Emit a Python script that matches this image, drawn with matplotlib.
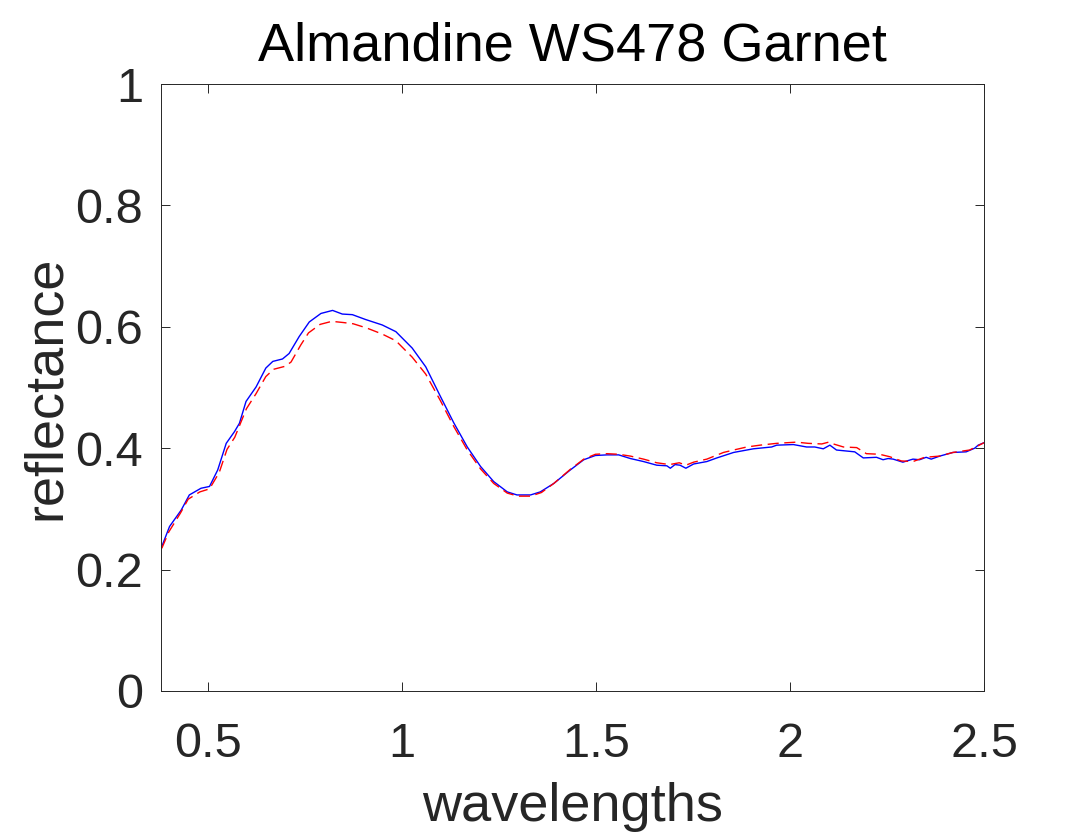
import numpy as np
import matplotlib
matplotlib.use('Agg')
import matplotlib.pyplot as plt

# values
wl_blue = [0.382, 0.402, 0.432, 0.453, 0.483, 0.505, 0.526, 0.548, 0.569, 0.582,
           0.599, 0.625, 0.650, 0.668, 0.693, 0.710, 0.736, 0.762, 0.792, 0.822,
           0.847, 0.873, 0.907, 0.950, 0.985, 1.027, 1.062, 1.100, 1.134, 1.169,
           1.203, 1.237, 1.272, 1.297, 1.332, 1.357, 1.392, 1.434, 1.469, 1.499,
           1.529, 1.559, 1.589, 1.623, 1.657, 1.683, 1.692, 1.704, 1.717, 1.732,
           1.752, 1.786, 1.812, 1.855, 1.906, 1.953, 1.966, 2.009, 2.043, 2.064,
           2.086, 2.103, 2.120, 2.167, 2.189, 2.223, 2.240, 2.253, 2.266, 2.291,
           2.317, 2.334, 2.351, 2.364, 2.386, 2.420, 2.454, 2.476, 2.485, 2.500]
refl_blue = [0.238, 0.271, 0.298, 0.323, 0.334, 0.337, 0.364, 0.408, 0.427, 0.441,
             0.477, 0.501, 0.532, 0.543, 0.547, 0.556, 0.584, 0.608, 0.622, 0.627,
             0.621, 0.620, 0.612, 0.603, 0.592, 0.565, 0.534, 0.485, 0.442, 0.402,
             0.370, 0.345, 0.328, 0.323, 0.323, 0.328, 0.342, 0.364, 0.381, 0.388,
             0.389, 0.389, 0.383, 0.378, 0.372, 0.371, 0.367, 0.373, 0.372, 0.367,
             0.374, 0.378, 0.384, 0.393, 0.399, 0.402, 0.405, 0.406, 0.402, 0.402,
             0.399, 0.405, 0.397, 0.394, 0.384, 0.385, 0.381, 0.383, 0.382, 0.377,
             0.382, 0.381, 0.385, 0.382, 0.387, 0.393, 0.394, 0.400, 0.405, 0.409]

wl_red = [0.382, 0.400, 0.430, 0.450, 0.480, 0.505, 0.530, 0.550, 0.570, 0.600,
          0.625, 0.650, 0.670, 0.700, 0.715, 0.740, 0.760, 0.790, 0.820, 0.850,
          0.875, 0.910, 0.950, 0.985, 1.027, 1.062, 1.100, 1.134, 1.169, 1.203,
          1.237, 1.272, 1.300, 1.332, 1.360, 1.392, 1.434, 1.469, 1.499, 1.529,
          1.559, 1.589, 1.623, 1.657, 1.690, 1.715, 1.732, 1.752, 1.786, 1.829,
          1.855, 1.889, 1.923, 1.966, 2.017, 2.047, 2.082, 2.100, 2.112, 2.138,
          2.172, 2.197, 2.231, 2.257, 2.287, 2.317, 2.347, 2.386, 2.420, 2.463,
          2.500]
refl_red = [0.235, 0.262, 0.293, 0.316, 0.328, 0.333, 0.360, 0.398, 0.418, 0.465,
            0.490, 0.518, 0.530, 0.535, 0.542, 0.570, 0.590, 0.604, 0.609, 0.607,
            0.605, 0.598, 0.588, 0.577, 0.550, 0.522, 0.478, 0.436, 0.397, 0.366,
            0.342, 0.326, 0.321, 0.321, 0.327, 0.342, 0.365, 0.382, 0.390, 0.391,
            0.390, 0.387, 0.382, 0.376, 0.373, 0.376, 0.372, 0.377, 0.382, 0.393,
            0.397, 0.402, 0.405, 0.408, 0.410, 0.408, 0.407, 0.410, 0.407, 0.402,
            0.401, 0.391, 0.390, 0.386, 0.379, 0.378, 0.385, 0.387, 0.393, 0.397,
            0.409]

xticks = [0.5, 1, 1.5, 2, 2.5]
yticks = [0, 0.2, 0.4, 0.6, 0.8, 1]

plt.rcParams['font.family'] = ['Liberation Sans', 'DejaVu Sans']
axcol = '#262626'

fig = plt.figure(figsize=(10.88, 8.4), dpi=100)
ax = fig.add_axes([161/1088, 1-691/840, (984-161)/1088, (691-84)/840])

ax.plot(wl_blue, refl_blue, color='blue', linewidth=1.0)
ax.plot(wl_red, refl_red, color='red', linewidth=1.0, linestyle=(0, (8, 4)))

ax.set_xlim(0.38, 2.5)
ax.set_ylim(0, 1)
ax.set_xticks(xticks)
ax.set_xticklabels(['0.5', '1', '1.5', '2', '2.5'])
ax.set_yticks(yticks)
ax.set_yticklabels(['0', '0.2', '0.4', '0.6', '0.8', '1'])

for s in ax.spines.values():
    s.set_color(axcol)
    s.set_linewidth(0.7)
ax.tick_params(direction='in', length=6.5, width=0.7, color=axcol,
               labelcolor=axcol, labelsize=35, top=True, right=True)
ax.tick_params(axis='x', pad=22)
ax.tick_params(axis='y', pad=13)

ax.set_title('Almandine WS478 Garnet', fontsize=39, pad=17, color='black')
ax.set_xlabel('wavelengths', fontsize=39, color=axcol, labelpad=11)
ax.set_ylabel('reflectance', fontsize=39, color=axcol, labelpad=3)

fig.savefig('out.png', dpi=100)
